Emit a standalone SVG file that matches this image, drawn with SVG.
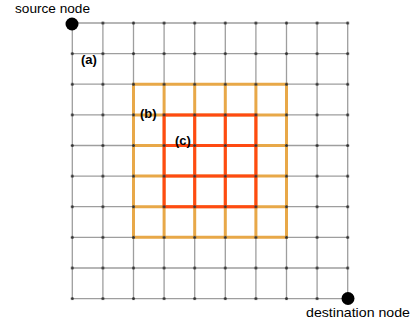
<svg xmlns="http://www.w3.org/2000/svg" width="413" height="325" viewBox="0 0 413 325">
<style>
.grid{stroke:#9e9e9e;stroke-width:1.3;fill:none}
.reg-b{stroke:#e8a848;stroke-width:3;fill:none;stroke-linecap:square}
.reg-c{stroke:#ff4a12;stroke-width:3;fill:none;stroke-linecap:square}
.lbl{font-family:"Liberation Sans",Arial,sans-serif;font-size:13.5px;fill:#000}
.tag{font-family:"Liberation Sans",Arial,sans-serif;font-size:13px;font-weight:bold;fill:#000}
.end{fill:#000}
</style>
<defs>
<pattern id="dots" patternUnits="userSpaceOnUse" x="57" y="7.7" width="30.6" height="30.62">
<circle cx="15.3" cy="15.3" r="1.5" fill="#333"/>
</pattern>
</defs>
<rect width="413" height="325" fill="#fff"/>
<g id="connectors">
<path class="grid" d="M72.3 23V298.6M102.9 23V298.6M133.5 23V298.6M164.1 23V298.6M194.7 23V298.6M225.3 23V298.6M255.9 23V298.6M286.5 23V298.6M317.1 23V298.6M347.7 23V298.6M72.3 23H347.7M72.3 53.6H347.7M72.3 84.2H347.7M72.3 114.9H347.7M72.3 145.5H347.7M72.3 176.1H347.7M72.3 206.7H347.7M72.3 237.3H347.7M72.3 268H347.7M72.3 298.6H347.7"/>
<path id="region-b" class="reg-b" d="M133.5 84.2V237.3M164.1 84.2V237.3M194.7 84.2V237.3M225.3 84.2V237.3M255.9 84.2V237.3M286.5 84.2V237.3M133.5 84.2H286.5M133.5 114.9H286.5M133.5 145.5H286.5M133.5 176.1H286.5M133.5 206.7H286.5M133.5 237.3H286.5"/>
<path id="region-c" class="reg-c" d="M164.1 114.9V206.7M194.7 114.9V206.7M225.3 114.9V206.7M255.9 114.9V206.7M164.1 114.9H255.9M164.1 145.5H255.9M164.1 176.1H255.9M164.1 206.7H255.9"/>
</g>
<g id="grid-nodes">
<rect x="70" y="20.5" width="280" height="281" fill="url(#dots)"/>
</g>
<g id="label-a"><text class="tag" x="81" y="64">(a)</text></g>
<g id="label-b"><text class="tag" x="140" y="118">(b)</text></g>
<g id="label-c"><text class="tag" x="175" y="145">(c)</text></g>
<g id="source-node">
<circle class="end" cx="72" cy="24" r="6.5"/>
<text class="lbl" x="15" y="13" textLength="75" lengthAdjust="spacingAndGlyphs">source node</text>
</g>
<g id="destination-node">
<circle class="end" cx="348" cy="298.5" r="6.5"/>
<text class="lbl" x="306" y="317" textLength="104" lengthAdjust="spacingAndGlyphs">destination node</text>
</g>
</svg>
